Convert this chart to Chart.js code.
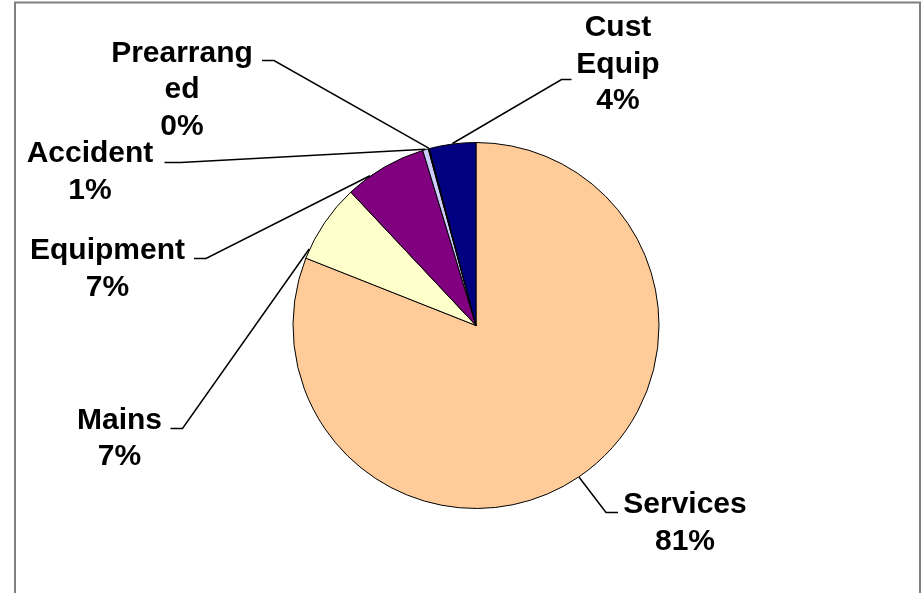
<!DOCTYPE html>
<html>
<head>
<meta charset="utf-8">
<script src="https://cdn.jsdelivr.net/npm/chart.js@4.4.0/dist/chart.umd.min.js"></script>
<style>
  html, body { margin: 0; padding: 0; background: #ffffff; }
  #wrap { width: 922px; height: 593px; position: relative; }
</style>
</head>
<body>
<div id="wrap"><canvas id="chart" width="922" height="593"></canvas></div>
<script>
// Share of incidents by cause (percent)
const categories = ['Services', 'Mains', 'Equipment', 'Accident', 'Prearranged', 'Cust Equip'];
const shares = [81.0, 7.0, 7.3, 0.5, 0.1, 4.1];
// How each category name is broken across lines in its callout
const labelLines = [['Services'], ['Mains'], ['Equipment'], ['Accident'], ['Prearrang', 'ed'], ['Cust', 'Equip']];

const sliceColors = ['#FFCC99', '#FFFFCC', '#800080', '#CCCCFF', '#000000', '#000080'];

// Callout placement: text centre x, first baseline y, elbow and tail of the leader line,
// and where along the slice (0..1) the leader touches the rim.
const calloutLayout = [
  { cx: 685, y: 513, elbow: [606, 512.5], tail: [618, 512.5], along: 0.5 },
  { cx: 119.5, y: 428.5, elbow: [182.5, 428.5], tail: [170.5, 428.5], along: 0.12 },
  { cx: 107.5, y: 259, elbow: [206, 258.5], tail: [194, 258.5], along: 0.3 },
  { cx: 90, y: 162, elbow: [180.5, 162.5], tail: [164.5, 162.5], along: 0.5 },
  { cx: 182, y: 61.5, elbow: [274, 60.5], tail: [262, 60.5], along: 0.5 },
  { cx: 618, y: 36, elbow: [561.5, 79.5], tail: [571.5, 79.5], along: 0.5 }
];
const LINE_STEP = 36.5;
const LABEL_FONT = 'bold 30px "Liberation Sans", Arial, sans-serif';

// Grey frame around the plot
const framePlugin = {
  id: 'frame',
  beforeDraw(chart) {
    const ctx = chart.ctx;
    ctx.save();
    ctx.fillStyle = '#ffffff';
    ctx.fillRect(0, 0, chart.width, chart.height);
    ctx.strokeStyle = '#808080';
    ctx.lineWidth = 2;
    ctx.beginPath();
    ctx.moveTo(15, chart.height + 2);
    ctx.lineTo(15, 2.5);
    ctx.lineTo(920, 2.5);
    ctx.lineTo(920, chart.height + 2);
    ctx.stroke();
    ctx.restore();
  }
};

// Category name + rounded percentage beside each slice, joined by a leader line
const calloutPlugin = {
  id: 'callouts',
  afterDatasetsDraw(chart) {
    const ctx = chart.ctx;
    const meta = chart.getDatasetMeta(0);
    const data = chart.data.datasets[0].data;
    const total = data.reduce((a, b) => a + b, 0);
    ctx.save();
    meta.data.forEach((arc, i) => {
      const p = arc.getProps(['x', 'y', 'startAngle', 'endAngle', 'outerRadius'], true);
      const spec = calloutLayout[i];
      const a = p.startAngle + (p.endAngle - p.startAngle) * spec.along;
      const r = p.outerRadius + 0.5;
      const ax = p.x + Math.cos(a) * r;
      const ay = p.y + Math.sin(a) * r;

      ctx.strokeStyle = '#000000';
      ctx.lineWidth = 1.5;
      ctx.beginPath();
      ctx.moveTo(ax, ay);
      ctx.lineTo(spec.elbow[0], spec.elbow[1]);
      ctx.lineTo(spec.tail[0], spec.tail[1]);
      ctx.stroke();

      const pct = Math.round(data[i] / total * 100) + '%';
      const lines = labelLines[i].concat([pct]);
      ctx.fillStyle = '#000000';
      ctx.font = LABEL_FONT;
      ctx.textAlign = 'center';
      ctx.textBaseline = 'alphabetic';
      lines.forEach((t, k) => ctx.fillText(t, spec.cx, spec.y + k * LINE_STEP));
    });
    ctx.restore();
  }
};

new Chart(document.getElementById('chart'), {
  type: 'pie',
  data: {
    labels: categories,
    datasets: [{
      data: shares,
      backgroundColor: sliceColors,
      borderColor: '#000000',
      borderWidth: 1,
      hoverOffset: 0,
      offset: 0
    }]
  },
  options: {
    responsive: false,
    animation: false,
    devicePixelRatio: 1,
    radius: 183,
    layout: { padding: { top: 142.5, bottom: 84.5, left: 293, right: 263 } },
    plugins: {
      legend: { display: false },
      tooltip: { enabled: false }
    },
    events: []
  },
  plugins: [framePlugin, calloutPlugin]
});
</script>
</body>
</html>
